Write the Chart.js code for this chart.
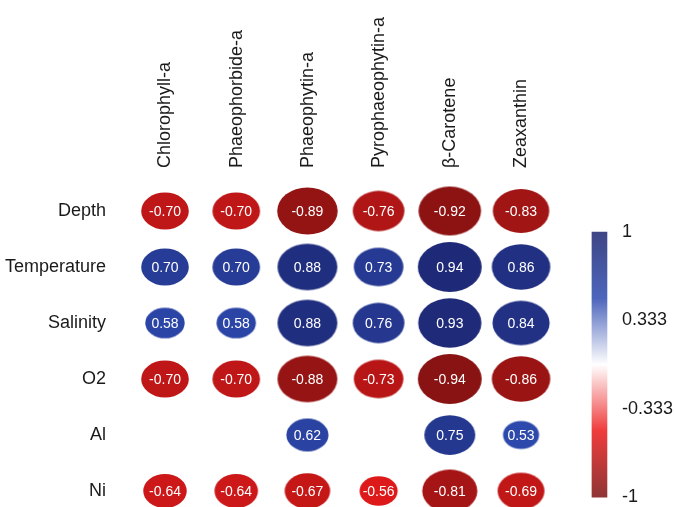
<!DOCTYPE html>
<html>
<head>
<meta charset="utf-8">
<script src="https://cdn.jsdelivr.net/npm/chart.js@4.4.0/dist/chart.umd.min.js"></script>
<style>
  html, body { margin: 0; padding: 0; background: #ffffff; }
  #wrap { width: 674px; height: 507px; }
</style>
</head>
<body>
<div id="wrap"><canvas id="corr" width="674" height="507"></canvas></div>
<script>
// Pigments (columns) and environmental variables (rows)
const pigments = ['Chlorophyll-a', 'Phaeophorbide-a', 'Phaeophytin-a', 'Pyrophaeophytin-a', 'β-Carotene', 'Zeaxanthin'];
const variables = ['Depth', 'Temperature', 'Salinity', 'O2', 'Al', 'Ni'];

// Pearson correlations, one array per variable, in pigment order (null = not significant)
const depthR       = [-0.70, -0.70, -0.89, -0.76, -0.92, -0.83];
const temperatureR = [ 0.70,  0.70,  0.88,  0.73,  0.94,  0.86];
const salinityR    = [ 0.58,  0.58,  0.88,  0.76,  0.93,  0.84];
const o2R          = [-0.70, -0.70, -0.88, -0.73, -0.94, -0.86];
const alR          = [ null,  null,  0.62,  null,  0.75,  0.53];
const niR          = [-0.64, -0.64, -0.67, -0.56, -0.81, -0.69];

// Colour-key ticks
const keyTicks = [1, 0.333, -0.333, -1];
const keyTickLabels = ['1', '0.333', '-0.333', '-1'];

const rows = [depthR, temperatureR, salinityR, o2R, alR, niR];

// Diverging palette: dark red (-1) -> red -> white (0) -> blue -> navy (+1)
const paletteStops = [
  [-1.0, [123, 18, 18]],
  [-0.5, [236, 26, 26]],
  [ 0.0, [255, 255, 255]],
  [ 0.5, [46, 75, 176]],
  [ 1.0, [28, 37, 112]]
];
function colorFor(v, alpha) {
  const a = alpha === undefined ? 1 : alpha;
  for (let i = 0; i < paletteStops.length - 1; i++) {
    const [v0, c0] = paletteStops[i];
    const [v1, c1] = paletteStops[i + 1];
    if (v >= v0 && v <= v1) {
      const t = (v - v0) / (v1 - v0);
      const c = c0.map((k, j) => Math.round(k + (c1[j] - k) * t));
      return `rgba(${c[0]},${c[1]},${c[2]},${a})`;
    }
  }
  return `rgba(255,255,255,${a})`;
}

// Ellipse marker whose size grows with |r|
const spriteCache = {};
function ellipseSprite(v) {
  const key = v.toFixed(2);
  if (spriteCache[key]) return spriteCache[key];
  const w = 68 * Math.abs(v);
  const h = 53 * Math.abs(v);
  const cv = document.createElement('canvas');
  cv.width = Math.ceil(w) + 2;
  cv.height = Math.ceil(h) + 2;
  const g = cv.getContext('2d');
  g.fillStyle = colorFor(v);
  g.beginPath();
  g.ellipse(cv.width / 2, cv.height / 2, w / 2, h / 2, 0, 0, Math.PI * 2);
  g.fill();
  spriteCache[key] = cv;
  return cv;
}

// Flatten the matrix into scatter points
const cells = [];
rows.forEach((vals, r) => {
  vals.forEach((v, c) => {
    if (v !== null) cells.push({ x: c, y: r, v: v });
  });
});

// Writes the coefficient inside each ellipse
const valueLabels = {
  id: 'valueLabels',
  afterDatasetsDraw(chart) {
    const meta = chart.getDatasetMeta(0);
    const ctx = chart.ctx;
    ctx.save();
    ctx.font = '14px "Liberation Sans", Arial, sans-serif';
    ctx.fillStyle = '#ffffff';
    ctx.textAlign = 'center';
    ctx.textBaseline = 'middle';
    meta.data.forEach((pt, i) => {
      const raw = chart.data.datasets[0].data[i];
      ctx.fillText(raw.v.toFixed(2), pt.x, pt.y + 1);
    });
    ctx.restore();
  }
};

const labelFont = { family: '"Liberation Sans", Arial, sans-serif', size: 18 };

// Axes keep a fixed footprint so the plot area stays put
function noEdgePadding(s) {
  s.paddingTop = 0;
  s.paddingBottom = 0;
  s.paddingLeft = 0;
  s.paddingRight = 0;
}

new Chart(document.getElementById('corr'), {
  type: 'scatter',
  data: {
    datasets: [
      {
        label: 'r',
        data: cells,
        pointStyle: ctx => ellipseSprite(ctx.raw.v),
        pointRadius: ctx => 30 * Math.abs(ctx.raw.v),
        xAxisID: 'x',
        yAxisID: 'y'
      },
      {
        type: 'bar',
        label: 'key',
        data: [{ x: 6.102, y: [-1, 1] }],
        xAxisID: 'x',
        yAxisID: 'key',
        barThickness: 15,
        borderWidth: 0,
        backgroundColor: ctx => {
          const chart = ctx.chart;
          const sc = chart.scales.key;
          if (!sc || !chart.chartArea) return colorFor(0);
          const top = sc.getPixelForValue(1);
          const bottom = sc.getPixelForValue(-1);
          const grad = chart.ctx.createLinearGradient(0, top, 0, bottom);
          for (let i = 0; i <= 40; i++) {
            const v = 1 - i / 20;
            grad.addColorStop(i / 40, colorFor(v, 0.85));
          }
          return grad;
        }
      }
    ]
  },
  options: {
    responsive: false,
    animation: false,
    events: [],
    devicePixelRatio: 1,
    layout: { padding: 0, autoPadding: false },
    plugins: {
      legend: { display: false },
      tooltip: { enabled: false }
    },
    scales: {
      x: {
        type: 'linear',
        position: 'top',
        min: -0.632,
        max: 6.278,
        offset: false,
        grid: { display: false, drawTicks: false },
        border: { display: false },
        afterBuildTicks: s => { s.ticks = pigments.map((_, i) => ({ value: i })); },
        afterFit: s => { s.height = 170; noEdgePadding(s); },
        ticks: {
          autoSkip: false,
          minRotation: 90,
          maxRotation: 90,
          padding: 2,
          labelOffset: 22,
          color: '#1a1a1a',
          font: labelFont,
          callback: v => pigments[Math.round(v)]
        }
      },
      y: {
        type: 'linear',
        position: 'left',
        reverse: true,
        min: -0.732,
        max: 5.286,
        grid: { display: false, drawTicks: false },
        border: { display: false },
        afterBuildTicks: s => { s.ticks = variables.map((_, i) => ({ value: i })); },
        afterFit: s => { s.width = 120; noEdgePadding(s); },
        ticks: {
          padding: 14,
          color: '#1a1a1a',
          font: labelFont,
          callback: v => variables[Math.round(v)]
        }
      },
      key: {
        type: 'linear',
        position: 'right',
        min: -1.075,
        max: 1.468,
        grid: { display: false, drawTicks: false },
        border: { display: false },
        afterBuildTicks: s => { s.ticks = keyTicks.map(v => ({ value: v })); },
        afterFit: s => { s.width = 62; noEdgePadding(s); },
        ticks: {
          padding: 10,
          color: '#1a1a1a',
          font: labelFont,
          callback: (v, i) => keyTickLabels[i]
        }
      }
    }
  },
  plugins: [valueLabels]
});
</script>
</body>
</html>
